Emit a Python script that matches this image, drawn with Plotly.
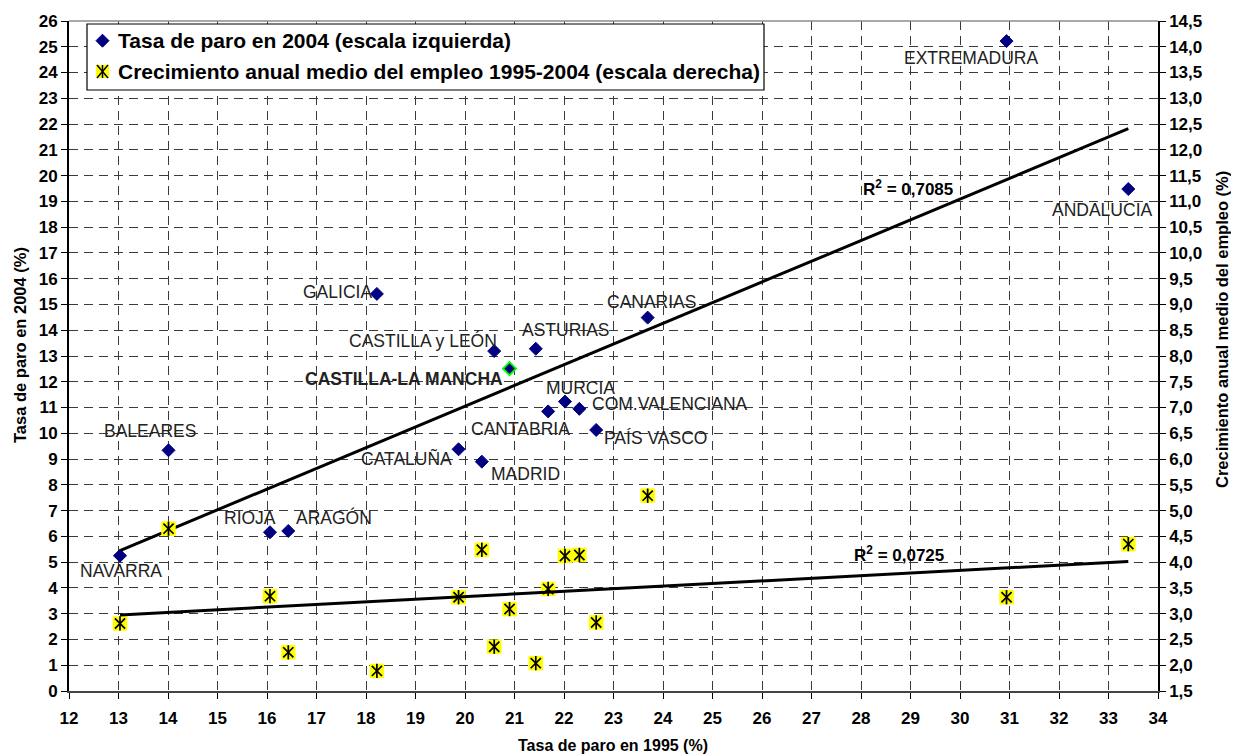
import numpy as np
import plotly.graph_objects as go

# ---------------- data ----------------
regions = ["NAVARRA", "BALEARES", "RIOJA", "ARAGÓN", "GALICIA", "CATALUÑA", "MADRID",
           "CASTILLA y LEÓN", "CASTILLA-LA MANCHA", "ASTURIAS", "CANTABRIA", "MURCIA",
           "COM.VALENCIANA", "PAÍS VASCO", "CANARIAS", "EXTREMADURA", "ANDALUCIA"]
paro1995 = [13.03, 14.01, 16.06, 16.43, 18.22, 19.87, 20.34, 20.59, 20.90, 21.43,
            21.68, 22.02, 22.31, 22.65, 23.69, 30.94, 33.40]
paro2004 = [5.25, 9.34, 6.16, 6.21, 15.41, 9.38, 8.90, 13.19, 12.51, 13.28,
            10.85, 11.23, 10.95, 10.13, 14.49, 25.22, 19.48]
empleo = [2.81, 4.65, 3.34, 2.25, 1.89, 3.32, 4.24, 2.36, 3.09, 2.04,
          3.48, 4.12, 4.14, 2.83, 5.29, 3.32, 4.35]
highlight = "CASTILLA-LA MANCHA"
r2_paro = "0,7085"
r2_empleo = "0,0725"
legend_names = ["Tasa de paro en 2004 (escala izquierda)",
                "Crecimiento anual medio del empleo 1995-2004 (escala derecha)"]
x_title = "Tasa de paro en 1995 (%)"
y_title = "Tasa de paro en 2004 (%)"
y2_title = "Crecimiento anual medio del empleo (%)"

# label offsets in pixels (dx right, dy down) -- style only
label_offsets = {
    "NAVARRA": (1, 15), "BALEARES": (-19, -19), "RIOJA": (-20, -14), "ARAGÓN": (46, -13),
    "GALICIA": (-39, -2), "CATALUÑA": (-52, 9), "MADRID": (44, 12),
    "CASTILLA y LEÓN": (-71, -11), "CASTILLA-LA MANCHA": (-106, 10), "ASTURIAS": (30, -19),
    "CANTABRIA": (-28, 18), "MURCIA": (16, -14), "COM.VALENCIANA": (91, -5),
    "PAÍS VASCO": (59, 8), "CANARIAS": (4, -16), "EXTREMADURA": (-35, 17), "ANDALUCIA": (-26, 21),
}

FONT = "Liberation Sans"
W, H = 1239, 754
OFF = 8  # page body margin
# plot area in page pixels: x 69..1158, y 21..691
ML, MR, MT, MB = 69 - OFF, W - (1158 - OFF), 21 - OFF, H - (691 - OFF)
PW, PH = W - ML - MR, H - MT - MB

def px2paper(px, py):
    """page pixel -> paper coordinate"""
    return (px - OFF - ML) / PW, (H - MB - (py - OFF)) / PH

fig = go.Figure()

# trend lines (least squares, computed from the data)
x_arr = np.array(paro1995)
xs = np.array([x_arr.min(), x_arr.max()])
c1 = np.polyfit(x_arr, np.array(paro2004), 1)
c2 = np.polyfit(x_arr, np.array(empleo), 1)

line_cols = ["#00FF00" if r == highlight else "#000080" for r in regions]
line_w = [2 if r == highlight else 1 for r in regions]

fig.add_trace(go.Scatter(
    x=paro1995, y=paro2004, mode="markers", showlegend=False, hoverinfo="skip",
    marker=dict(symbol="diamond", size=10, color="#000080",
                line=dict(color=line_cols, width=line_w))))
fig.add_trace(go.Scatter(
    x=xs, y=np.polyval(c1, xs), mode="lines", showlegend=False, hoverinfo="skip",
    line=dict(color="black", width=3)))

fig.add_trace(go.Scatter(
    x=paro1995, y=empleo, yaxis="y2", mode="markers", showlegend=False, hoverinfo="skip",
    marker=dict(symbol="square", size=14.5, color="#FFFF00", line=dict(width=0))))
for sym in ["x-thin-open", "line-ns-open"]:
    fig.add_trace(go.Scatter(
        x=paro1995, y=empleo, yaxis="y2", mode="markers", showlegend=False, hoverinfo="skip",
        marker=dict(symbol=sym, size=10.2, color="black", line=dict(color="black", width=1.7))))
fig.add_trace(go.Scatter(
    x=xs, y=np.polyval(c2, xs), yaxis="y2", mode="lines", showlegend=False, hoverinfo="skip",
    line=dict(color="black", width=3)))

# labels
annotations = []
for name, xv, yv in zip(regions, paro1995, paro2004):
    dx, dy = label_offsets[name]
    annotations.append(dict(
        x=xv, y=yv, xref="x", yref="y", text=name, showarrow=False,
        xanchor="center", yanchor="middle", xshift=dx, yshift=-dy,
        font=dict(family=FONT, size=17.5, color="#222",
                  weight="bold" if name == highlight else "normal")))

annotations.append(dict(x=28.95, y=19.52, xref="x", yref="y", showarrow=False,
                        xanchor="center", yanchor="middle",
                        text="R<sup>2</sup> = " + r2_paro,
                        font=dict(family=FONT, size=17, color="black", weight="bold")))
annotations.append(dict(x=28.77, y=5.32, xref="x", yref="y", showarrow=False,
                        xanchor="center", yanchor="middle",
                        text="R<sup>2</sup> = " + r2_empleo,
                        font=dict(family=FONT, size=17, color="black", weight="bold")))

# axis titles
titlefont = dict(family=FONT, size=16, color="black", weight="bold")
ax_, ay_ = px2paper(613, 745)
annotations.append(dict(x=ax_, y=ay_, xref="paper", yref="paper", showarrow=False,
                        xanchor="center", yanchor="middle", text=x_title, font=titlefont))
ax_, ay_ = px2paper(20, 345)
annotations.append(dict(x=ax_, y=ay_, xref="paper", yref="paper", showarrow=False,
                        xanchor="center", yanchor="middle", text=y_title, textangle=-90,
                        font=dict(family=FONT, size=16.5, color="black", weight="bold")))
ax_, ay_ = px2paper(1222, 330)
annotations.append(dict(x=ax_, y=ay_, xref="paper", yref="paper", showarrow=False,
                        xanchor="center", yanchor="middle", text=y2_title, textangle=-90,
                        font=dict(family=FONT, size=16.5, color="black", weight="bold")))

# manual legend
lx0, ly1 = px2paper(87, 24)
lx1, ly0 = px2paper(764, 90)
shapes = [
    dict(type="line", xref="paper", yref="paper", x0=0, x1=1, y0=1, y1=1,
         line=dict(color="#8c8c8c", width=1.5), layer="above"),
    dict(type="rect", xref="paper", yref="paper", x0=lx0, x1=lx1, y0=ly0, y1=ly1,
         fillcolor="white", line=dict(color="black", width=1.2), layer="above"),
]
gx, gy1 = px2paper(102.5, 40.7)
_, gy2 = px2paper(102.5, 71.5)
shapes.append(dict(type="path", xref="paper", yref="paper", xsizemode="pixel", ysizemode="pixel",
                   xanchor=gx, yanchor=gy1, path="M0,6.5 L6.5,0 L0,-6.5 L-6.5,0 Z",
                   fillcolor="#000080", line=dict(color="#000080", width=1), layer="above"))
shapes.append(dict(type="rect", xref="paper", yref="paper", xsizemode="pixel", ysizemode="pixel",
                   xanchor=gx, yanchor=gy2, x0=-6.5, x1=6.5, y0=-6.5, y1=6.5,
                   fillcolor="#FFFF00", line=dict(width=0), layer="above"))
for (a, b, c, d) in [(-5.5, -6.5, 5.5, 6.5), (-5.5, 6.5, 5.5, -6.5), (0, -6.5, 0, 6.5)]:
    shapes.append(dict(type="line", xref="paper", yref="paper", xsizemode="pixel", ysizemode="pixel",
                       xanchor=gx, yanchor=gy2, x0=a, y0=b, x1=c, y1=d,
                       line=dict(color="black", width=1.5), layer="above"))
tx, _ = px2paper(116, 0)
for gy, txt in zip([gy1, gy2], legend_names):
    annotations.append(dict(x=tx, y=gy, xref="paper", yref="paper", xanchor="left",
                            yanchor="middle", showarrow=False, text=txt,
                            font=dict(family=FONT, size=21, color="black", weight="bold")))

tickfont = dict(family=FONT, size=17, color="black", weight="bold")
bold = dict(tickprefix="<b>", ticksuffix="</b>")
grid = dict(showgrid=True, gridcolor="#3a3a3a", gridwidth=1, griddash="9px,6px")

fig.update_layout(
    width=W, height=H, margin=dict(l=ML, r=MR, t=MT, b=MB, autoexpand=False),
    paper_bgcolor="white", plot_bgcolor="white", separators=",.",
    showlegend=False, annotations=annotations, shapes=shapes,
    xaxis=dict(range=[12, 34], dtick=1, tick0=12, ticks="outside", ticklen=6, tickcolor="black",
               showline=True, linecolor="#444444", linewidth=2, zeroline=False,
               tickfont=tickfont, ticklabelstandoff=5, **bold, **grid),
    yaxis=dict(range=[0, 26], dtick=1, tick0=0, ticks="outside", ticklen=6, tickcolor="black",
               showline=True, linecolor="black", linewidth=2, zeroline=False,
               tickfont=tickfont, **bold, **grid),
    yaxis2=dict(range=[1.5, 14.5], dtick=0.5, tick0=1.5, tickformat=".1f", overlaying="y",
                side="right", ticks="outside", ticklen=6, tickcolor="black",
                showline=True, linecolor="black", linewidth=1.5, showgrid=False, zeroline=False,
                tickfont=tickfont, **bold),
)

fig.write_html("out.html")
